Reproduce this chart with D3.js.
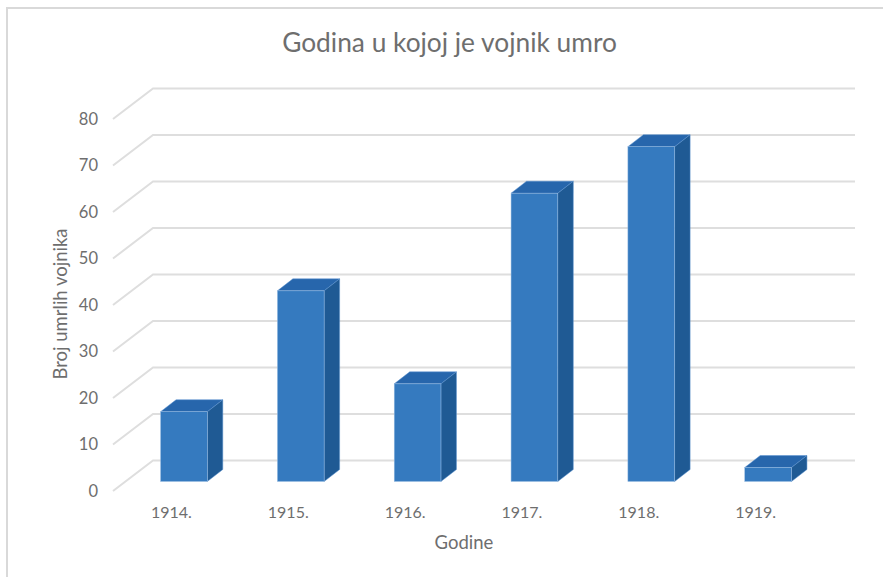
<!DOCTYPE html>
<html>
<head>
<meta charset="utf-8">
<script src="https://cdn.jsdelivr.net/npm/d3@7"></script>
<style>
    html, body { margin: 0; padding: 0; background: #fff; }
    svg { display: block; }
    text { font-family: Lato, "Open Sans", sans-serif; fill: #6e6e6e; }
</style>
</head>
<body>
<div id="chart"></div>
<script>
const years = ['1914.', '1915.', '1916.', '1917.', '1918.', '1919.'];
const deaths = [15, 41, 21, 62, 72, 3];
const yTicks = [0, 10, 20, 30, 40, 50, 60, 70, 80];

const width = 883;
const height = 577;

// 3d look: the walls are sheared by these offsets
const wallX = 40, wallY = -30.5;
const barDepthX = 15.5, barDepthY = -12;
const barOffsetX = 12.5, barOffsetY = -9.5;

const svg = d3.select('#chart').append('svg')
    .attr('width', width)
    .attr('height', height);

// frame of the chart area
svg.append('path')
    .attr('d', `M7,${height}V8H${width}`)
    .attr('fill', 'none')
    .attr('stroke', '#d9d9d9')
    .attr('stroke-width', 2);

svg.append('text')
    .attr('x', 449.5)
    .attr('y', 52)
    .attr('text-anchor', 'middle')
    .style('font-size', '26.3px')
    .text('Godina u kojoj je vojnik umro');

// y is measured on the front plane of the floor
const y = d3.scaleLinear().domain([0, 80]).range([491, 119]);
const x = d3.scaleBand().domain(years).range([113, 814]).paddingInner(0.6).paddingOuter(0.3);

const grid = svg.append('g')
    .attr('fill', 'none')
    .attr('stroke', '#dedede')
    .attr('stroke-width', 2);

grid.selectAll('path')
    .data(yTicks)
    .enter()
    .append('path')
    .attr('d', d => `M113,${y(d)}L${113 + wallX},${y(d) + wallY}H855`);

const yAxis = svg.append('g')
    .attr('transform', 'translate(106,0)')
    .call(d3.axisLeft(y).tickValues(yTicks).tickSize(0).tickPadding(8));
yAxis.select('.domain').remove();
yAxis.selectAll('text').style('font-size', '16.5px').style('font-family', 'Lato').attr('fill', '#6e6e6e');

const bars = svg.selectAll('.bar')
    .data(years.map((year, i) => ({ year, value: deaths[i] })))
    .enter()
    .append('g')
    .attr('class', 'bar')
    .attr('transform', `translate(${barOffsetX},${barOffsetY})`);

const barLeft = d => x(d.year);
const barRight = d => x(d.year) + x.bandwidth();
const barTop = d => y(d.value);
const barBottom = () => y(0);

// top face
bars.append('path')
    .attr('fill', '#2766ac')
    .attr('stroke', '#5b93d0')
    .attr('stroke-width', 0.5)
    .attr('d', d => `M${barLeft(d)},${barTop(d)}l${barDepthX},${barDepthY}H${barRight(d) + barDepthX}L${barRight(d)},${barTop(d)}Z`);

// side face
bars.append('path')
    .attr('fill', '#1f5a94')
    .attr('stroke', '#5b93d0')
    .attr('stroke-width', 0.5)
    .attr('d', d => `M${barRight(d)},${barTop(d)}l${barDepthX},${barDepthY}V${barBottom() + barDepthY}L${barRight(d)},${barBottom()}Z`);

// front face
bars.append('rect')
    .attr('fill', '#357abf')
    .attr('stroke', '#9dbfe3')
    .attr('stroke-width', 0.5)
    .attr('x', barLeft)
    .attr('y', barTop)
    .attr('width', x.bandwidth())
    .attr('height', d => barBottom() - barTop(d));

// category labels sit left of the bars because of the perspective
svg.selectAll('.year')
    .data(years)
    .enter()
    .append('text')
    .attr('class', 'year')
    .attr('x', d => x(d) + x.bandwidth() / 2)
    .attr('y', 518)
    .attr('text-anchor', 'middle')
    .style('font-size', '16px')
    .text(d => d);

svg.append('text')
    .attr('x', 464)
    .attr('y', 549)
    .attr('text-anchor', 'middle')
    .style('font-size', '18.5px')
    .text('Godine');

svg.append('text')
    .attr('transform', 'translate(67,304) rotate(-90)')
    .attr('text-anchor', 'middle')
    .style('font-size', '18.5px')
    .text('Broj umrlih vojnika');
</script>
</body>
</html>
